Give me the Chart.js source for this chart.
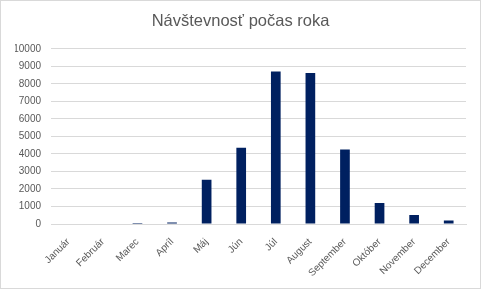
<!DOCTYPE html>
<html>
<head>
<meta charset="utf-8">
<script src="https://cdn.jsdelivr.net/npm/chart.js@4"></script>
<style>
    body { margin: 0; background: #fff; }
    #wrap { width: 481px; height: 289px; box-sizing: border-box; border: 1px solid #d9d9d9; }
</style>
</head>
<body>
<div id="wrap"><canvas id="barChart" width="479" height="287"></canvas></div>
<script>
// data
const months = ['Január', 'Február', 'Marec', 'Apríl', 'Máj', 'Jún', 'Júl', 'August', 'September', 'Október', 'November', 'December'];
const visits = [0, 0, 50, 90, 2530, 4350, 8700, 8620, 4250, 1200, 520, 200];
const yTicks = [0, 1000, 2000, 3000, 4000, 5000, 6000, 7000, 8000, 9000, 10000];

const grey = '#595959';

var ctx = document.getElementById('barChart').getContext('2d');

var chart = new Chart(ctx, {
    type: 'bar',
    data: {
        labels: months,
        datasets: [{
            label: 'Návštevnosť',
            data: visits,
            backgroundColor: '#002060',
            barPercentage: 0.56,
            categoryPercentage: 0.5
        }]
    },
    options: {
        responsive: false,
        animation: false,
        layout: { padding: { left: 14, right: 14, top: 0, bottom: 0 } },
        plugins: {
            legend: { display: false },
            tooltip: { enabled: false },
            title: {
                display: true,
                text: 'Návštevnosť počas roka',
                color: grey,
                font: { family: 'Liberation Sans', size: 16.5, weight: 'normal' },
                padding: { top: 11, bottom: 17 }
            }
        },
        scales: {
            x: {
                grid: { display: false },
                border: { color: '#d9d9d9' },
                ticks: {
                    color: grey,
                    font: { family: 'Liberation Sans', size: 10 },
                    minRotation: 45,
                    maxRotation: 45,
                    padding: 4
                },
                afterFit: (axis) => { axis.height = 64; }
            },
            y: {
                min: 0,
                max: 10000,
                afterBuildTicks: (axis) => { axis.ticks = yTicks.map(v => ({ value: v })); },
                grid: { color: '#d9d9d9', drawTicks: false },
                border: { display: false },
                ticks: {
                    color: grey,
                    font: { family: 'Liberation Sans', size: 10 },
                    padding: 10,
                    callback: (v) => String(v)
                },
                afterFit: (axis) => { axis.width = 36; }
            }
        }
    }
});
</script>
</body>
</html>
